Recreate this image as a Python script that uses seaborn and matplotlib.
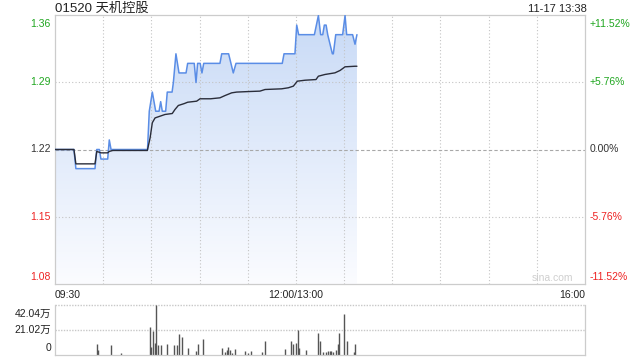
import numpy as np
import matplotlib
matplotlib.use("Agg")
import matplotlib.pyplot as plt
import seaborn as sns
from matplotlib.colors import LinearSegmentedColormap

# ---------------- data ----------------
title = "01520 天机控股"
stamp = "11-17 13:38"
prev_close = 1.22
pct_ticks = [11.52, 5.76, 0.0, -5.76, -11.52]
pct_labels = ["+11.52%", "+5.76%", "0.00%", "-5.76%", "-11.52%"]
price_labels = ["1.36", "1.29", "1.22", "1.15", "1.08"]
x_labels = ["09:30", "12:00/13:00", "16:00"]
vol_labels = ["42.04万", "21.02万", "0"]
vol_ticks = [42.04, 21.02, 0.0]

# minutes since 09:30 (trading minutes) and price
price_min = [0, 11.8, 13, 24.9, 26, 27.6, 28.6, 32.8, 33.8, 34.9,
             57.6, 58.7, 60.6, 62.7, 64.8, 65.8, 66.8, 68.9, 69.9, 72.9,
             73.7, 75.3, 77.2, 81.6, 82.6, 86.7, 87.8, 88.8, 90.4, 91.5,
             92.6, 102.7, 103.8, 108.1, 111, 112.7, 141.5, 142.6, 149.4, 150.5,
             151.7, 161.5, 164, 165.4, 166.7, 167.7, 168.8, 169.8, 172.7, 173.3,
             174.8, 179.1, 180.6, 181.6, 185.3, 186.8, 188]
price_val = [1.22, 1.22, 1.20, 1.20, 1.22, 1.22, 1.21, 1.21, 1.23, 1.22,
             1.22, 1.26, 1.28, 1.26, 1.26, 1.27, 1.26, 1.26, 1.28, 1.28,
             1.29, 1.32, 1.30, 1.30, 1.31, 1.31, 1.29, 1.31, 1.31, 1.30,
             1.31, 1.31, 1.32, 1.32, 1.30, 1.31, 1.31, 1.32, 1.32, 1.35,
             1.34, 1.34, 1.36, 1.34, 1.34, 1.35, 1.35, 1.34, 1.32, 1.32,
             1.34, 1.34, 1.36, 1.34, 1.34, 1.33, 1.34]

avg_min = [0, 11.8, 13, 24.9, 26, 28.6, 32.8, 33.8, 36, 57.5,
           59.2, 60.6, 62.3, 68.5, 73, 74.7, 76.8, 80.5, 82.6, 88.2,
           90.3, 96.9, 102.7, 105.9, 110, 113.1, 119.8, 127.6, 130.8, 141.1,
           145.3, 148.4, 150.9, 155.7, 162.5, 164, 168.1, 174.3, 177.5, 180.6,
           186.8, 188]
avg_val = [1.22, 1.22, 1.205, 1.205, 1.218, 1.2165, 1.2165, 1.218, 1.219, 1.219,
           1.232, 1.248, 1.253, 1.2566, 1.2576, 1.2618, 1.266, 1.268, 1.2694, 1.2705,
           1.273, 1.273, 1.274, 1.2764, 1.2792, 1.280, 1.2805, 1.281, 1.2827, 1.2834,
           1.2845, 1.2862, 1.2914, 1.2924, 1.2931, 1.2966, 1.2984, 1.3001, 1.3026, 1.3064,
           1.307, 1.307]

# volume (万) per minute
vol_min = [26, 27, 35, 41, 59, 60, 61, 62, 63, 64,
           66, 70, 74, 76, 77, 79, 83, 88, 89, 92,
           104, 106, 107, 108, 109, 110, 112, 118, 120, 122,
           129, 131, 143, 147, 148, 150, 151, 152, 156, 164,
           165, 167, 169, 170, 171, 172, 173, 175, 176, 177,
           180, 182, 186, 187]
vol_val = [8.9, 3.8, 8.1, 1.9, 23.6, 7.1, 20.2, 10.0, 42.04, 8.1,
           8.1, 8.9, 8.1, 8.1, 17.4, 15.1, 6.1, 3.2, 8.9, 13.7,
           6.1, 2.3, 4.2, 7.1, 4.2, 1.4, 5.1, 3.7, 1.7, 3.7,
           2.8, 11.4, 5.1, 11.4, 8.9, 10.0, 21.4, 6.1, 4.2, 18.5,
           11.4, 2.3, 2.3, 3.7, 3.7, 3.7, 2.3, 4.2, 8.9, 18.5,
           34.4, 12.1, 2.3, 8.9]

total_min = 330
grid_mins = list(range(30, 330, 30))

# ---------------- style ----------------
sns.set_theme(style="white")
plt.rcParams["font.family"] = ["Liberation Sans", "Noto Sans CJK SC", "DejaVu Sans"]

fig = plt.figure(figsize=(6.4, 3.6), dpi=100)
ax = fig.add_axes([55 / 640, 1 - 284 / 360, 530 / 640, 269 / 360])
axv = fig.add_axes([55 / 640, 1 - 355 / 360, 530 / 640, 50 / 360])

tick_prices = [prev_close * (1 + p / 100) for p in pct_ticks]
ymin, ymax = min(tick_prices), max(tick_prices)
ax.set_xlim(0, total_min)
ax.set_ylim(ymin, ymax)

# gradient fill under price line
cmap = LinearSegmentedColormap.from_list("g", ["#fbfcff", "#c8daf6"])
grad = np.linspace(0, 1, 256).reshape(-1, 1)
im = ax.imshow(grad, cmap=cmap, origin="lower", aspect="auto",
               extent=[0, total_min, ymin, ymax], zorder=1)
poly = ax.fill_between(price_min, price_val, ymin, facecolor="none", edgecolor="none")
im.set_clip_path(poly.get_paths()[0], transform=ax.transData)
ax.set_xlim(0, total_min)
ax.set_ylim(ymin, ymax)

# grid (drawn over the fill)
for m in grid_mins:
    ax.axvline(m, color="#c4c4c4", lw=0.8, ls=(0, (1, 2)), zorder=2)
for tp, p in zip(tick_prices, pct_ticks):
    if p == 0:
        ax.axhline(tp, color="#a8a8a8", lw=0.8, ls=(0, (3, 2)), zorder=2)
    elif abs(p) < 10:
        ax.axhline(tp, color="#c4c4c4", lw=0.8, ls=(0, (1, 2)), zorder=2)

sns.lineplot(x=price_min, y=price_val, ax=ax, color="#5a8de6", lw=1.1, zorder=3)
sns.lineplot(x=avg_min, y=avg_val, ax=ax, color="#2a2d3a", lw=1.0, zorder=4)

ax.set_xticks([])
ax.set_yticks([])
ax.set_xlabel("")
ax.set_ylabel("")
for s in ax.spines.values():
    s.set_color("#cccccc")
    s.set_linewidth(0.9)

# axis labels
colors = ["#1fa61f", "#1fa61f", "#333333", "#ee2222", "#ee2222"]
n = len(tick_prices)
for i, (tp, pl, ptl, c) in enumerate(zip(tick_prices, price_labels, pct_labels, colors)):
    if i == 0:
        va, dy = "top", -3
    elif i == n - 1:
        va, dy = "bottom", 1.5
    else:
        va, dy = "center", 0
    ax.annotate(pl, xy=(0, tp), xycoords=("axes fraction", "data"),
                xytext=(-3, dy), textcoords="offset points",
                ha="right", va=va, fontsize=7.5, color=c)
    ax.annotate(ptl, xy=(1, tp), xycoords=("axes fraction", "data"),
                xytext=(3.5, dy), textcoords="offset points",
                ha="left", va=va, fontsize=7.5, color=c)

for lab, pos, ha in zip(x_labels, [0, 150, 330], ["left", "center", "right"]):
    ax.annotate(lab, xy=(pos, 0), xycoords=("data", "axes fraction"),
                xytext=(0, -4), textcoords="offset points",
                ha=ha, va="top", fontsize=7.5, color="#222222")

fig.text(55 / 640, 1 - 9 / 360, title, ha="left", va="center",
         fontsize=9.5, color="#222222")
fig.text(587 / 640, 1 - 9 / 360, stamp, ha="right", va="center",
         fontsize=8, color="#222222")
ax.text(0.977, 0.022, "sina.com", transform=ax.transAxes, ha="right",
        va="center", fontsize=7.5, color="#cfcfcf", zorder=5)

# volume panel
axv.set_xlim(0, total_min)
axv.set_ylim(0, max(vol_ticks))
axv.vlines(vol_min, 0, vol_val, color="#555555", lw=1.0)
axv.axhline(vol_ticks[1], color="#c8c8c8", lw=1.0, ls=(0, (1, 1)), zorder=0)
axv.axhline(vol_ticks[0], color="#c8c8c8", lw=1.0, ls=(0, (1, 1)), zorder=0, clip_on=False)
axv.set_xticks([])
axv.set_yticks([])
for k, s in axv.spines.items():
    s.set_color("#cccccc")
    s.set_linewidth(0.9)
axv.spines["top"].set_visible(False)
for i, (v, lab) in enumerate(zip(vol_ticks, vol_labels)):
    if i == 0:
        va, dy = "top", -3
    elif i == len(vol_ticks) - 1:
        va, dy = "bottom", 1.5
    else:
        va, dy = "center", 0
    axv.annotate(lab, xy=(0, v), xycoords=("axes fraction", "data"),
                 xytext=(-2.5, dy), textcoords="offset points",
                 ha="right", va=va, fontsize=7.5, color="#222222")

fig.savefig("out.png", dpi=100, facecolor="white")
